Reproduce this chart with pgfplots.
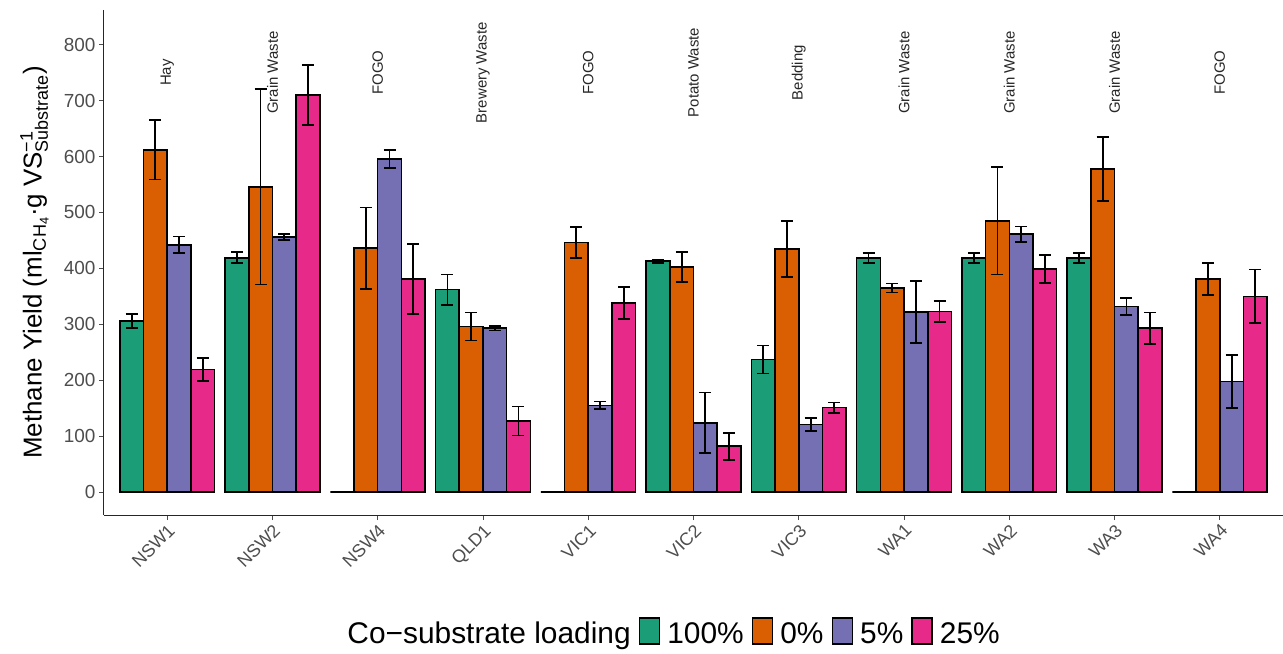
\documentclass[border=0pt]{standalone}
\usepackage{pgfplots}
\pgfplotsset{compat=1.18}
\usepackage{fontspec}
\setmainfont{Liberation Sans}
\definecolor{cG}{HTML}{1B9E77}
\definecolor{cO}{HTML}{D95F02}
\definecolor{cP}{HTML}{7570B3}
\definecolor{cK}{HTML}{E7298A}
\definecolor{tickgray}{HTML}{4D4D4D}
\pgfplotsset{
  mybar/.style={ybar, bar width=0.225, bar shift=0pt, draw=black, line width=1.6bp,
    legend image code/.code={\draw[##1, draw=black, line width=1.6bp] (0bp,-10bp) rectangle (20bp,16bp);}},
  myerr/.style={error bars/.cd, y dir=both, y explicit,
    error bar style={line width=1.8bp, black},
    error mark options={rotate=90, line width=1.8bp, black, mark size=6bp}}
}
\begin{document}
\begin{tikzpicture}
\begin{axis}[
  scale only axis, width=1179bp, height=505bp,
  xmin=-0.6, xmax=10.6, ymin=-41, ymax=862,
  axis x line*=bottom, axis y line*=left,
  xtick pos=left, ytick pos=left,
  xtick={0,1,2,3,4,5,6,7,8,9,10},
  xticklabels={NSW1,NSW2,NSW4,QLD1,VIC1,VIC2,VIC3,WA1,WA2,WA3,WA4},
  ytick={0,100,200,300,400,500,600,700,800},
  tick align=outside, major tick length=5bp,
  tick style={black!70, line width=0.9bp},
  axis line style={line width=1bp, black!85},
  /pgf/number format/assume math mode=true,
  x tick label style={rotate=45, anchor=north east, font=\fontsize{18}{20}\selectfont, text=tickgray, inner sep=2bp},
  y tick label style={font=\fontsize{19}{22}\selectfont, text=tickgray},
  ylabel={Methane Yield (ml\textsubscript{CH\textsubscript{4}}·g VS$^{\mbox{\fontsize{18}{20}\selectfont −1}}_{\mbox{\fontsize{18}{20}\selectfont Substrate}}$)},
  ylabel style={font=\fontsize{26}{30}\selectfont, at={(axis description cs:-0.044,0.5)}, anchor=south, rotate=0},
  legend style={at={(axis description cs:0.481,-0.232)}, anchor=center, draw=none, fill=none,
    font=\fontsize{30}{36}\selectfont, legend columns=-1,
    /tikz/every odd column/.append style={column sep=5bp},
    /tikz/every even column/.append style={column sep=6bp}},
]
\addlegendimage{empty legend}
\addlegendentry{Co−substrate loading}

\addplot[mybar, fill=cG, myerr] coordinates {
(-0.3375,306) +- (0,12)
(0.6625,419) +- (0,10)
(1.6625,0) +- (0,0)
(2.6625,362) +- (0,27)
(3.6625,0) +- (0,0)
(4.6625,413) +- (0,3)
(5.6625,237) +- (0,25)
(6.6625,419) +- (0,9)
(7.6625,419) +- (0,9)
(8.6625,419) +- (0,9)
(9.6625,0) +- (0,0)
};
\addlegendentry{100\%}

\addplot[mybar, fill=cO, myerr] coordinates {
(-0.1125,612) +- (0,53)
(0.8875,546) +- (0,175)
(1.8875,436) +- (0,73)
(2.8875,296) +- (0,25)
(3.8875,446) +- (0,28)
(4.8875,402) +- (0,27)
(5.8875,435) +- (0,50)
(6.8875,365) +- (0,8)
(7.8875,485) +- (0,96)
(8.8875,578) +- (0,57)
(9.8875,381) +- (0,28)
};
\addlegendentry{0\%}

\addplot[mybar, fill=cP, myerr] coordinates {
(0.1125,442) +- (0,15)
(1.1125,456) +- (0,5)
(2.1125,596) +- (0,16)
(3.1125,293) +- (0,4)
(4.1125,155) +- (0,7)
(5.1125,124) +- (0,54)
(6.1125,121) +- (0,12)
(7.1125,322) +- (0,55)
(8.1125,461) +- (0,14)
(9.1125,332) +- (0,15)
(10.1125,198) +- (0,47)
};
\addlegendentry{5\%}

\addplot[mybar, fill=cK, myerr] coordinates {
(0.3375,219) +- (0,21)
(1.3375,710) +- (0,54)
(2.3375,381) +- (0,62)
(3.3375,127) +- (0,26)
(4.3375,338) +- (0,29)
(5.3375,82) +- (0,24)
(6.3375,151) +- (0,9)
(7.3375,323) +- (0,19)
(8.3375,399) +- (0,25)
(9.3375,293) +- (0,28)
(10.3375,350) +- (0,48)
};
\addlegendentry{25\%}

\addplot[draw=none, mark=none, forget plot, point meta=explicit symbolic,
  nodes near coords, nodes near coords style={rotate=90, anchor=center, font=\fontsize{15}{17}\selectfont, text=black!85, inner sep=0pt}]
coordinates {
(0,750) [Hay]
(1,750) [Grain Waste]
(2,750) [FOGO]
(3,750) [Brewery Waste]
(4,750) [FOGO]
(5,750) [Potato Waste]
(6,750) [Bedding]
(7,750) [Grain Waste]
(8,750) [Grain Waste]
(9,750) [Grain Waste]
(10,750) [FOGO]
};

\coordinate (ll) at (rel axis cs:0,0);
\coordinate (ur) at (rel axis cs:1,1);
\end{axis}
\pgfresetboundingbox
\path[use as bounding box] ([xshift=-104bp,yshift=-139bp]ll) rectangle ([yshift=10bp]ur);
\end{tikzpicture}
\end{document}
